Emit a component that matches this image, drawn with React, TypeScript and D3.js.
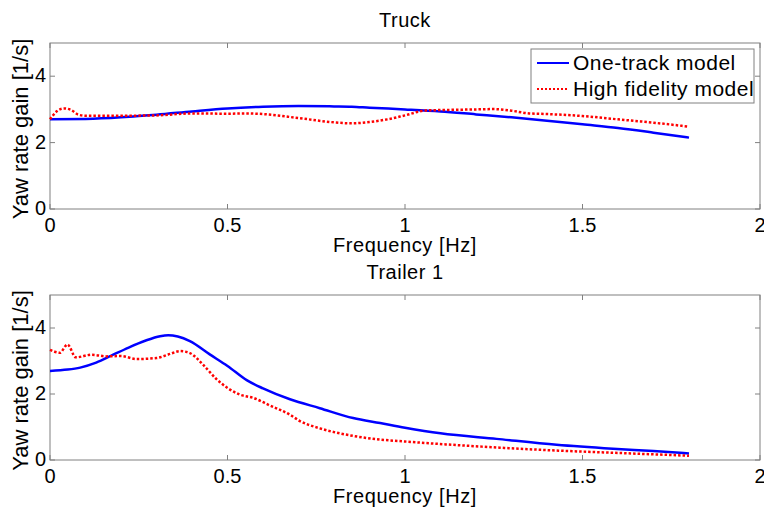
import React from 'react';
import * as d3 from 'd3';

// frequency [Hz] / gain [1/s]
const truckOneTrackF = [0, 0.1, 0.2, 0.25, 0.3, 0.4, 0.5, 0.6, 0.7, 0.8, 0.85, 0.9, 1.0, 1.1, 1.2, 1.3, 1.4, 1.5, 1.6, 1.7, 1.8];
const truckOneTrackG = [2.7, 2.71, 2.76, 2.8, 2.84, 2.94, 3.03, 3.08, 3.1, 3.09, 3.08, 3.05, 3.0, 2.94, 2.85, 2.76, 2.66, 2.55, 2.44, 2.3, 2.15];

const truckHifiF = [0, 0.02, 0.04, 0.06, 0.08, 0.1, 0.2, 0.3, 0.4, 0.5, 0.55, 0.6, 0.7, 0.8, 0.85, 0.9, 0.95, 1.0, 1.06, 1.1, 1.2, 1.25, 1.3, 1.35, 1.4, 1.5, 1.6, 1.7, 1.8];
const truckHifiG = [2.7, 2.95, 3.03, 2.98, 2.84, 2.81, 2.81, 2.82, 2.88, 2.87, 2.88, 2.86, 2.74, 2.61, 2.58, 2.62, 2.7, 2.82, 2.97, 2.98, 3.0, 3.01, 2.96, 2.88, 2.86, 2.8, 2.7, 2.6, 2.48];

const trailerOneTrackF = [0, 0.05, 0.085, 0.13, 0.178, 0.22, 0.27, 0.31, 0.333, 0.36, 0.394, 0.45, 0.5, 0.554, 0.6, 0.676, 0.76, 0.854, 0.93, 1.0, 1.1, 1.258, 1.427, 1.586, 1.7, 1.8];
const trailerOneTrackG = [2.7, 2.74, 2.8, 2.95, 3.19, 3.4, 3.62, 3.75, 3.78, 3.74, 3.6, 3.2, 2.85, 2.42, 2.17, 1.84, 1.57, 1.27, 1.12, 0.98, 0.81, 0.64, 0.46, 0.34, 0.27, 0.2];

const trailerHifiF = [0, 0.028, 0.049, 0.073, 0.117, 0.16, 0.2, 0.244, 0.3, 0.34, 0.366, 0.394, 0.43, 0.469, 0.535, 0.573, 0.62, 0.676, 0.704, 0.76, 0.854, 0.93, 1.0, 1.164, 1.399, 1.586, 1.8];
const trailerHifiG = [3.34, 3.25, 3.5, 3.11, 3.19, 3.14, 3.15, 3.06, 3.09, 3.22, 3.3, 3.24, 2.9, 2.45, 1.98, 1.88, 1.65, 1.37, 1.18, 0.96, 0.73, 0.62, 0.56, 0.44, 0.3, 0.22, 0.13];

const xTicks = [0, 0.5, 1, 1.5, 2];
const yTicks = [0, 2, 4];
const seriesNames = ['One-track model', 'High fidelity model'];

const FONT = "'Liberation Sans', Arial, sans-serif";
const AXIS = '#808080';

const left = 50;
const right = 760;

const x = d3.scaleLinear().domain([0, 2]).range([left, right]);

const zip = (f: number[], g: number[]) => f.map((v, i) => [v, g[i]] as [number, number]);

type PanelProps = {
  title: string;
  top: number;
  bottom: number;
  blue: [number, number][];
  red: [number, number][];
  legend?: boolean;
};

const Panel = ({ title, top, bottom, blue, red, legend }: PanelProps) => {
  const y = d3.scaleLinear().domain([0, 5]).range([bottom, top]);
  const line = d3.line<[number, number]>()
    .x(d => x(d[0]))
    .y(d => y(d[1]))
    .curve(d3.curveMonotoneX);
  const tl = 5;
  return (
    <g fontFamily={FONT}>
      <text x={(left + right) / 2} y={top - 16} textAnchor="middle" fontSize={20} letterSpacing={0.5}>{title}</text>
      <rect x={left} y={top} width={right - left} height={bottom - top} fill="white" stroke={AXIS} strokeWidth={1} />
      {xTicks.map(t => (
        <g key={'x' + t}>
          <line x1={x(t)} x2={x(t)} y1={bottom} y2={bottom - tl} stroke={AXIS} />
          <line x1={x(t)} x2={x(t)} y1={top} y2={top + tl} stroke={AXIS} />
          <text x={x(t)} y={bottom + 23} textAnchor="middle" fontSize={20}>{t}</text>
        </g>
      ))}
      {yTicks.map(t => (
        <g key={'y' + t}>
          <line x1={left} x2={left + tl} y1={y(t)} y2={y(t)} stroke={AXIS} />
          <line x1={right} x2={right - tl} y1={y(t)} y2={y(t)} stroke={AXIS} />
          <text x={left - 4} y={y(t) + 6} textAnchor="end" fontSize={20}>{t}</text>
        </g>
      ))}
      <text x={(left + right) / 2} y={bottom + 43} textAnchor="middle" fontSize={20} letterSpacing={0.6}>Frequency [Hz]</text>
      <text transform={`translate(28,${(top + bottom) / 2 + 3}) rotate(-90)`} textAnchor="middle" fontSize={22}>Yaw rate gain [1/s]</text>
      <path d={line(blue) || ''} fill="none" stroke="#0000ff" strokeWidth={2.5} />
      <path d={line(red) || ''} fill="none" stroke="#ff0000" strokeWidth={2.5} strokeDasharray="2.5 2" />
      {legend && (
        <g>
          <rect x={531} y={49} width={223} height={54} fill="white" stroke={AXIS} />
          <line x1={537} x2={569} y1={63} y2={63} stroke="#0000ff" strokeWidth={2} />
          <text x={573} y={70} fontSize={21} letterSpacing={0.5}>{seriesNames[0]}</text>
          <line x1={537} x2={569} y1={89} y2={89} stroke="#ff0000" strokeWidth={2} strokeDasharray="2 2" />
          <text x={573} y={96} fontSize={21} letterSpacing={0.5}>{seriesNames[1]}</text>
        </g>
      )}
    </g>
  );
};

export default function App() {
  return (
    <svg width={764} height={510} style={{ position: 'absolute', left: 0, top: 0, background: 'white' }}>
      <Panel title="Truck" top={43} bottom={209} blue={zip(truckOneTrackF, truckOneTrackG)} red={zip(truckHifiF, truckHifiG)} legend />
      <Panel title="Trailer 1" top={295} bottom={460} blue={zip(trailerOneTrackF, trailerOneTrackG)} red={zip(trailerHifiF, trailerHifiG)} />
    </svg>
  );
}
